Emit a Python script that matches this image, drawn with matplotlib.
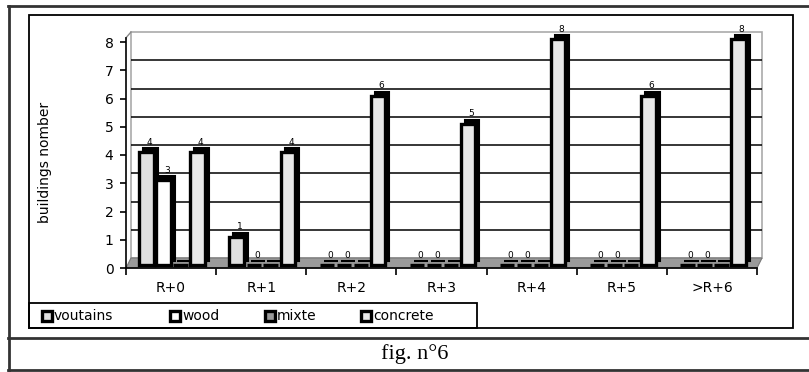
import matplotlib
matplotlib.use("Agg")
import matplotlib.pyplot as plt
import matplotlib.transforms as mtransforms
from matplotlib.patches import Rectangle, Polygon
from matplotlib.lines import Line2D

# ---- data ----
categories = ["R+0", "R+1", "R+2", "R+3", "R+4", "R+5", ">R+6"]
series_names = ["voutains", "wood", "mixte", "concrete"]
voutains = [4, 1, 0, 0, 0, 0, 0]
wood = [3, 0, 0, 0, 0, 0, 0]
mixte = [0, 0, 0, 0, 0, 0, 0]
concrete = [4, 4, 6, 5, 8, 6, 8]
y_ticks = [0, 1, 2, 3, 4, 5, 6, 7, 8]
y_label = "buildings nomber"
caption = "fig. n°6"

# ---- style ----
face_colors = ["#e0e0e0", "#ffffff", "#9a9a9a", "#e8e8e8"]
show_labels = [True, True, False, True]
W, H = 809, 372
plt.rcParams['font.family'] = ['DejaVu Sans']

fig = plt.figure(figsize=(W / 100, H / 100), dpi=100)


def fx(x):
    return x / W


def fy(y):
    return 1 - y / H


# page frame
frame_kw = dict(color="#333333", lw=2, transform=fig.transFigure, clip_on=False)
fig.add_artist(Line2D([fx(8.5), fx(8.5)], [fy(6), fy(369.5)], **frame_kw))
fig.add_artist(Line2D([fx(8), 1], [fy(6), fy(6)], **frame_kw))
fig.add_artist(Line2D([fx(8), 1], [fy(338), fy(338)], **frame_kw))
fig.add_artist(Line2D([fx(8), 1], [fy(369.5), fy(369.5)], **frame_kw))
# chart box
fig.add_artist(Rectangle((fx(29), fy(328)), fx(793) - fx(29), fy(15) - fy(328),
                         transform=fig.transFigure, fill=False, ec="black", lw=1.3))
fig.text(fx(415), fy(354), caption, family=["Liberation Serif", "DejaVu Serif"],
         fontsize=16, ha="center", va="center")

# axes
ytop = 8.4
px_per_unit = 28.25
ax_left, ax_right, ax_bottom = 126, 757, 268
ax_top = ax_bottom - ytop * px_per_unit
ax = fig.add_axes([fx(ax_left), fy(ax_bottom), (ax_right - ax_left) / W,
                   (ax_bottom - ax_top) / H])
ax.set_xlim(-0.5, len(categories) - 0.5)
ax.set_ylim(0, ytop)
ax.patch.set_visible(False)
for s in ["top", "right"]:
    ax.spines[s].set_visible(False)
ax.spines["left"].set_bounds(0, 8.15)
ax.spines["left"].set_linewidth(1.2)
ax.spines["bottom"].set_linewidth(1.2)


def shifted(dxp, dyp):
    return ax.transData + mtransforms.ScaledTranslation(dxp / 100, dyp / 100, fig.dpi_scale_trans)


# 3D depth offset (back wall)
dx_px, dy_px = 5, 10
back = shifted(dx_px, dy_px)
ncat = len(categories)
wall = Rectangle((-0.5, 0), ncat, max(y_ticks), transform=back, fc="white",
                 ec="#aaaaaa", lw=1.2, zorder=0.5, clip_on=False)
ax.add_patch(wall)
ax.hlines(y_ticks[1:-1], -0.5, ncat - 0.5, colors="black", lw=1.1,
          transform=back, zorder=1, clip_on=False)
ax.add_line(Line2D([-0.5, -0.5 + dx_px / 90], [8.15, max(y_ticks) + dy_px / px_per_unit],
                   color="#888888", lw=1, clip_on=False, zorder=1))

# floor
ddx, ddy = dx_px / 90, dy_px / px_per_unit
floor = Polygon([(-0.5, 0), (ncat - 0.5, 0), (ncat - 0.5 + ddx, ddy), (-0.5 + ddx, ddy)],
                closed=True, fc="#9a9a9a", ec="#777777", lw=0.8, zorder=2, clip_on=False)
ax.add_patch(floor)

# bars
series = [voutains, wood, mixte, concrete]
offsets = [-0.283, -0.094, 0.094, 0.283]
bw = 0.16
xs = list(range(ncat))
front = shifted(1, 3)
shadow = shifted(5, 7)
z = 3
for vals, off, fc, lab, name in zip(series, offsets, face_colors, show_labels, series_names):
    pos = [x + off for x in xs]
    sh = ax.bar(pos, vals, bw, color="black", ec="black", lw=1.5, zorder=z)
    for p in sh:
        p.set_transform(shadow)
    fr = ax.bar(pos, vals, bw, color=fc, ec="black", lw=2.4, zorder=z + 0.5, label=name)
    for p in fr:
        p.set_transform(front)
    if lab:
        for xp, v in zip(pos, vals):
            ax.annotate(str(v), (xp, v), xytext=(3, 6), textcoords="offset points",
                        ha="center", va="bottom", fontsize=6.5, zorder=z + 1)
    z += 1

# ticks
ax.set_yticks(y_ticks)
ax.tick_params(axis="y", direction="out", length=4, width=1.2, pad=5, labelsize=10)
ax.set_xticks([x - 0.5 for x in xs] + [ncat - 0.5])
ax.set_xticklabels([])
ax.tick_params(axis="x", which="major", direction="out", length=5, width=1.2)
ax.set_xticks(xs, minor=True)
ax.set_xticklabels(categories, minor=True)
ax.tick_params(axis="x", which="minor", length=0, pad=9, labelsize=10)

fig.text(fx(45), fy(162), y_label, rotation=90, ha="center", va="center", fontsize=10)

# legend (manual box)
fig.add_artist(Rectangle((fx(29), fy(328)), fx(477) - fx(29), fy(303) - fy(328),
                         transform=fig.transFigure, fill=False, ec="black", lw=1.3))
handle_x = [47, 175, 270, 366]
for hx, fc, name in zip(handle_x, face_colors, series_names):
    fig.add_artist(Rectangle((fx(hx - 5), fy(320.5)), 10 / W, 10 / H, transform=fig.transFigure,
                             fc=fc, ec="black", lw=2.4))
    fig.text(fx(hx + 7), fy(315.5), name, ha="left", va="center", fontsize=10)

fig.savefig("out.png", dpi=100)
